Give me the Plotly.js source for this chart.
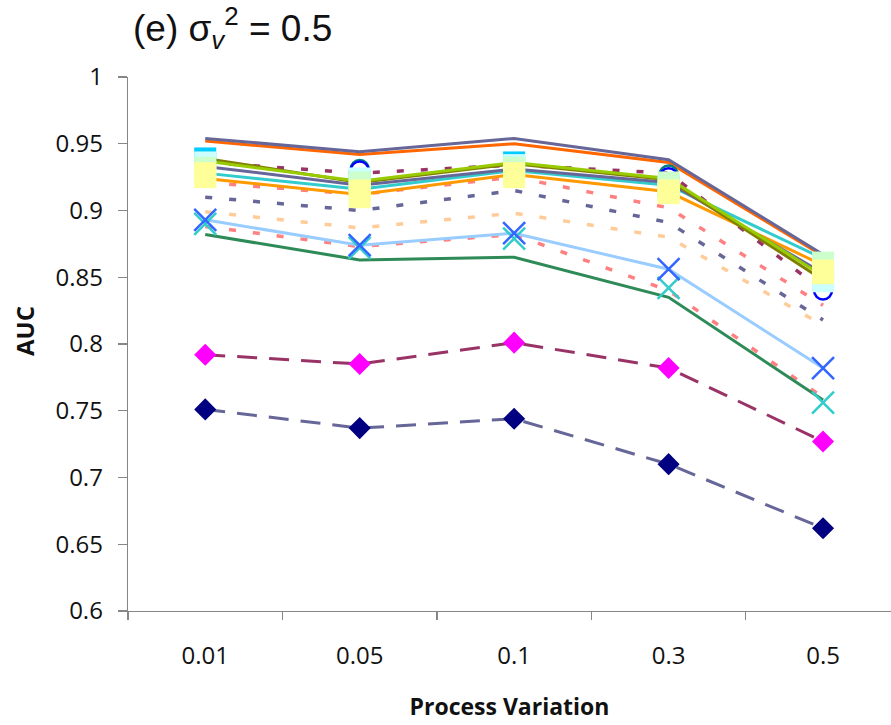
<!DOCTYPE html>
<html>
<head>
<meta charset="utf-8">
<script src="https://cdn.plot.ly/plotly-3.0.1.min.js"></script>
<style>
  body { margin: 0; background: #fff; }
  #plot { width: 891px; height: 725px; }
</style>
</head>
<body>
<div id="plot"></div>
<script>
// categories
var variation = ["0.01", "0.05", "0.1", "0.3", "0.5"];

// solid lines
var slateTop  = [0.954, 0.944, 0.954, 0.938, 0.867];
var orangeRed = [0.952, 0.942, 0.950, 0.936, 0.866];
var olive     = [0.939, 0.921, 0.935, 0.923, 0.848];
var lime      = [0.937, 0.922, 0.936, 0.924, 0.851];
var slate2    = [0.933, 0.919, 0.931, 0.921, 0.853];
var teal      = [0.928, 0.916, 0.930, 0.919, 0.864];
var orange    = [0.924, 0.912, 0.927, 0.914, 0.859];
var lightBlue = [0.893, 0.874, 0.883, 0.856, 0.782];
var green     = [0.882, 0.863, 0.865, 0.835, 0.758];

// dotted lines
var maroonDot = [0.936, 0.928, 0.934, 0.928, 0.840];
var salmonUp  = [0.921, 0.912, 0.925, 0.902, 0.829];
var slateDot  = [0.910, 0.900, 0.915, 0.891, 0.818];
var peachDot  = [0.899, 0.887, 0.898, 0.880, 0.814];
var salmonLow = [0.888, 0.873, 0.882, 0.840, 0.760];

// dashed lines with diamonds
var magentaDash = [0.792, 0.785, 0.801, 0.782, 0.727];
var navyDash    = [0.751, 0.737, 0.744, 0.710, 0.662];

// marker-only series
var blueX      = [0.893, 0.874, 0.883, 0.856, 0.782];
var tealX      = [0.890, 0.872, 0.879, 0.842, 0.756];
var circleTeal = [0.937, 0.931, 0.936, 0.927, 0.848];
var circleBlue = [0.935, 0.930, 0.934, 0.925, 0.840];
var cyanSq     = [0.939, 0.922, 0.936, 0.918, 0.850];
var lcyanSq    = [0.936, 0.924, 0.934, 0.918, 0.847];
var lgreenSq   = [0.932, 0.921, 0.932, 0.921, 0.861];
var yellowSq1  = [0.928, 0.915, 0.928, 0.915, 0.855];
var yellowSq2  = [0.925, 0.910, 0.925, 0.913, 0.853];

// y tick labels
var yTicks = [0.6, 0.65, 0.7, 0.75, 0.8, 0.85, 0.9, 0.95, 1];
var yTickText = ["0.6", "0.65", "0.7", "0.75", "0.8", "0.85", "0.9", "0.95", "1"];

function line(y, color, dash, width) {
    return {
        x: variation, y: y, type: "scatter", mode: "lines",
        line: {color: color, width: width || 3, dash: dash || "solid"},
        hoverinfo: "skip"
    };
}
function marks(y, symbol, color, size, open) {
    var m = {symbol: symbol, size: size, color: color};
    if (open) m.line = {color: color, width: 2.5};
    else m.line = {width: 0};
    return {
        x: variation, y: y, type: "scatter", mode: "markers",
        marker: m, hoverinfo: "skip"
    };
}

var dotDash = "7px,17px";
var longDash = "20px,12px";

var traces = [
    line(salmonLow, "#FF8080", dotDash, 3.5),
    line(peachDot, "#FFCC99", dotDash, 3.5),
    line(slateDot, "#666699", dotDash, 3.5),
    line(salmonUp, "#FF8080", dotDash, 3.5),
    line(maroonDot, "#993366", dotDash, 3.5),
    line(green, "#2E8B57"),
    line(lightBlue, "#99CCFF"),
    line(orange, "#FF9900"),
    line(teal, "#33CCCC"),
    line(slate2, "#666699"),
    line(olive, "#808000"),
    line(lime, "#99CC00"),
    line(orangeRed, "#FF6600"),
    line(slateTop, "#666699"),
    line(navyDash, "#666699", longDash, 3),
    line(magentaDash, "#993366", longDash, 3),
    marks(navyDash, "diamond", "#000080", 17),
    marks(magentaDash, "diamond", "#FF00FF", 17),
    marks(tealX, "x-thin-open", "#33CCCC", 22, true),
    marks(blueX, "x-thin-open", "#3366FF", 22, true),
    marks(circleTeal, "circle-open", "#008080", 18, true),
    marks(circleBlue, "circle-open", "#0000FF", 18, true),
    marks(cyanSq, "square", "#00CCFF", 22),
    marks(lcyanSq, "square", "#CCFFFF", 22),
    marks(lgreenSq, "square", "#CCFFCC", 22),
    marks(yellowSq1, "square", "#FFFF99", 22),
    marks(yellowSq2, "square", "#FFFF99", 22)
];

var layout = {
    width: 891,
    height: 725,
    margin: {l: 128, r: 0, t: 77, b: 114, pad: 0},
    paper_bgcolor: "#fff",
    plot_bgcolor: "#fff",
    showlegend: false,
    font: {family: "Open Sans, sans-serif", color: "#111"},
    title: {
        text: "(e) σ<sub><i>v</i></sub><sup>2</sup> = 0.5",
        font: {family: "Liberation Sans, Arial, sans-serif", size: 37, color: "#111"},
        xref: "container", x: 133 / 891, xanchor: "left",
        yref: "container", y: 1 - 28 / 725, yanchor: "middle"
    },
    xaxis: {
        type: "category",
        range: [-0.5, 4.44],
        showline: true, linecolor: "#868686", linewidth: 1.3,
        ticks: "outside", tickson: "boundaries", ticklen: 8,
        tickcolor: "#868686", tickwidth: 1.3,
        tickfont: {size: 24, color: "#111"},
        ticklabelstandoff: 23,
        showgrid: false, zeroline: false,
        title: {text: "<b>Process Variation</b>", font: {size: 23, color: "#111"}, standoff: 28}
    },
    yaxis: {
        range: [0.6, 1],
        tickvals: yTicks, ticktext: yTickText,
        showline: true, linecolor: "#868686", linewidth: 1.3,
        ticks: "outside", ticklen: 9, tickcolor: "#868686", tickwidth: 1.3,
        tickfont: {size: 24, color: "#111"},
        ticklabelstandoff: 10,
        showgrid: false, zeroline: false
    },
    annotations: [{
        text: "<b>AUC</b>", textangle: -90,
        xref: "paper", yref: "paper",
        x: -104 / 763, y: (611 - 331) / 534,
        xanchor: "center", yanchor: "middle", showarrow: false,
        font: {size: 24, color: "#111"}
    }]
};

Plotly.newPlot("plot", traces, layout, {displayModeBar: false, staticPlot: true});
</script>
</body>
</html>
